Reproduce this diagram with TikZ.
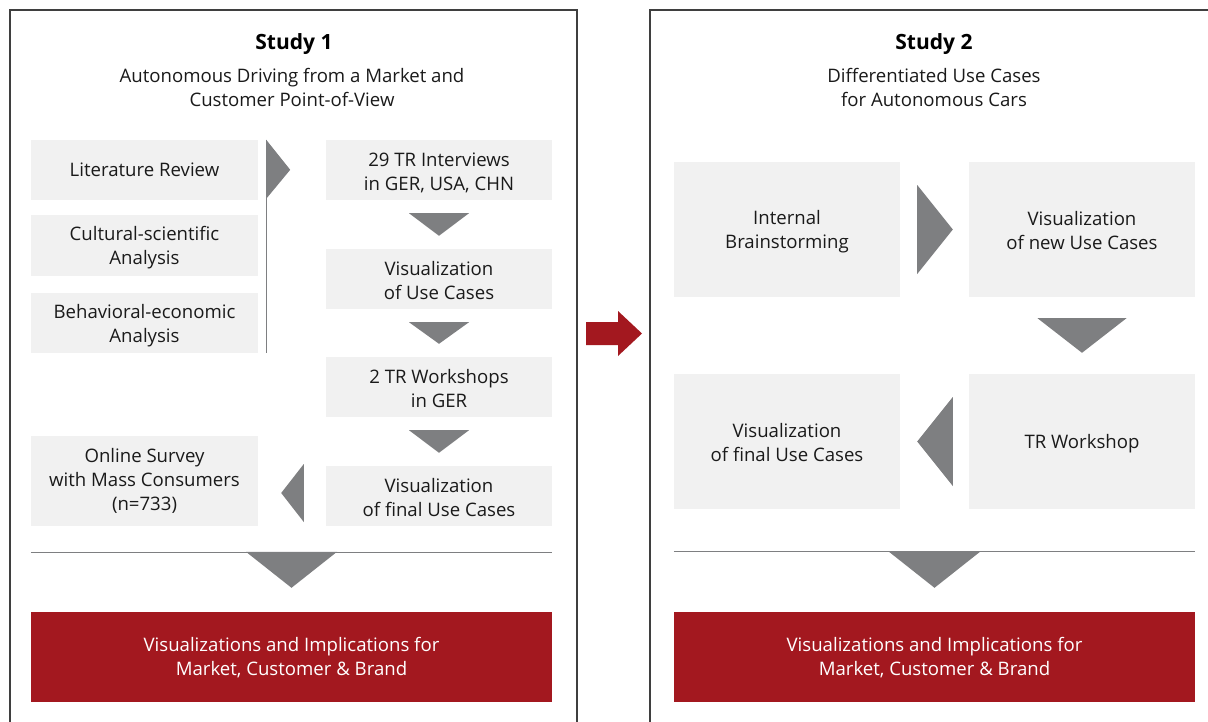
\documentclass[tikz,border=0pt]{standalone}
\usepackage{fontspec}
\setmainfont{Open Sans}
\usetikzlibrary{calc}
\definecolor{boxgray}{HTML}{F1F1F1}
\definecolor{trigray}{HTML}{7E7F81}
\definecolor{darkred}{HTML}{A3181F}
\definecolor{framegray}{HTML}{3F3F3F}
\definecolor{txt}{HTML}{1A1A1A}
\begin{document}
\begin{tikzpicture}[x=1pt,y=-1pt,
  tops/.style={execute at begin node={\rule{0pt}{#1}}},
  gbox/.style={fill=boxgray, inner sep=0pt, align=center, text=txt,
    font=\fontsize{18.6}{24}\selectfont,
    execute at end node={\rule[-4pt]{0pt}{4pt}}},
  redbox/.style={fill=darkred, inner sep=0pt, align=center, text=white,
    minimum width=521pt, minimum height=90pt, font=\fontsize{18.6}{24}\selectfont,
    tops=40pt, execute at end node={\rule[-4pt]{0pt}{4pt}}},
  tri/.style={fill=trigray, draw=none},
  frame/.style={draw=framegray, line width=1.3pt},
  sepline/.style={draw=trigray, line width=1pt},
  ttl/.style={font=\bfseries\fontsize{21}{24}\selectfont, text=black},
  sub/.style={align=center, text=txt, font=\fontsize{18.6}{24}\selectfont}]
\useasboundingbox (0,0) rectangle (1208,721);
\clip (0,0) rectangle (1208,721);
\fill[white] (0,0) rectangle (1208,721);

% frames
\draw[frame] (10,730) -- (10,10) -- (577,10) -- (577,730);
\draw[frame] (650,730) -- (650,10) -- (1215,10);

% ---------- Study 1 ----------
\node[ttl] (t1) at (294,44) {Study 1};
\node[sub] (s1) at (292,87.5) {Autonomous Driving from a Market and\\Customer Point-of-View};

\node[gbox, tops=16pt, minimum width=227pt, minimum height=60pt] (lit) at (144.5,170) {Literature Review};
\node[gbox, tops=42pt, minimum width=227pt, minimum height=61pt] (cult) at (144.5,245.5) {Cultural-scientific\\Analysis};
\node[gbox, tops=43pt, minimum width=227pt, minimum height=60pt] (behav) at (144.5,323) {Behavioral-economic\\Analysis};
\node[gbox, tops=62pt, minimum width=227pt, minimum height=90pt] (survey) at (144.5,481) {Online Survey\\with Mass Consumers\\(n=733)};

\node[gbox, tops=44pt, minimum width=226pt, minimum height=60pt] (interv) at (439,170) {29 TR Interviews\\in GER, USA, CHN};
\node[gbox, tops=44pt, minimum width=226pt, minimum height=60pt] (vuc) at (439,279) {Visualization\\of Use Cases};
\node[gbox, tops=44pt, minimum width=226pt, minimum height=60pt] (ws) at (439,387) {2 TR Workshops\\in GER};
\node[gbox, tops=44pt, minimum width=226pt, minimum height=60pt] (vfin1) at (439,496) {Visualization\\of final Use Cases};

\node[redbox] (res1) at (291.5,657) {Visualizations and Implications for\\Market, Customer \& Brand};

% bracket line and right triangle
\coordinate (bt) at ($(lit.north east)+(8,0)$);
\coordinate (bb) at ($(behav.south east)+(8,0)$);
\draw[draw=trigray, line width=1.2pt] (bt) -- (bb);
\fill[tri] (bt) -- ($(bt)+(24,30)$) -- ($(bt)+(0,59)$) -- cycle;

% down triangles
\fill[tri] ($(interv.south)+(-30,13)$) -- ($(interv.south)+(30,13)$) -- ($(vuc.north)+(0,-13)$) -- cycle;
\fill[tri] ($(vuc.south)+(-30,13)$) -- ($(vuc.south)+(30,13)$) -- ($(ws.north)+(0,-13)$) -- cycle;
\fill[tri] ($(ws.south)+(-30,13)$) -- ($(ws.south)+(30,13)$) -- ($(vfin1.north)+(0,-13)$) -- cycle;

% left triangle
\fill[tri] ($(vfin1.west)+(-22,-32)$) -- ($(vfin1.west)+(-22,26)$) -- ($(survey.east)+(23,12)$) -- cycle;

% separator + big triangle
\draw[sepline] ($(survey.south west)+(0,26)$) -- ($(vfin1.south east)+(0,26)$);
\fill[tri] ($(res1.north)+(-45.5,-60)$) -- ($(res1.north)+(45.5,-60)$) -- ($(res1.north)+(0,-24)$) -- cycle;

% ---------- red arrow between studies ----------
\fill[darkred] (586,322) -- (618,322) -- (618,311) -- (642,333.5) -- (618,356) -- (618,345) -- (586,345) -- cycle;

% ---------- Study 2 ----------
\node[ttl] (t2) at (934,44) {Study 2};
\node[sub] (s2) at (934,87.5) {Differentiated Use Cases\\for Autonomous Cars};

\node[gbox, tops=43pt, minimum width=226pt, minimum height=135pt] (brain) at (787,229.5) {Internal\\Brainstorming};
\node[gbox, tops=43pt, minimum width=226pt, minimum height=135pt] (vnew) at (1082,229.5) {Visualization\\of new Use Cases};
\node[gbox, tops=19pt, minimum width=226pt, minimum height=135pt] (trw) at (1082,441.5) {TR Workshop};
\node[gbox, tops=43pt, minimum width=226pt, minimum height=135pt] (vfin2) at (787,441.5) {Visualization\\of final Use Cases};

\node[redbox] (res2) at (934.5,657) {Visualizations and Implications for\\Market, Customer \& Brand};

% right triangle brain -> vnew
\fill[tri] ($(brain.east)+(17,-44.5)$) -- ($(brain.east)+(17,44.5)$) -- ($(vnew.west)+(-16,0)$) -- cycle;
% down triangle vnew -> trw
\fill[tri] ($(vnew.south)+(-44.5,21)$) -- ($(vnew.south)+(44.5,21)$) -- ($(trw.north)+(0,-21)$) -- cycle;
% left triangle trw -> vfin2
\fill[tri] ($(trw.west)+(-16,-44.5)$) -- ($(trw.west)+(-16,44.5)$) -- ($(vfin2.east)+(17,0)$) -- cycle;

% separator + big triangle
\draw[sepline] ($(vfin2.south west)+(0,42.5)$) -- ($(trw.south east)+(0,42.5)$);
\fill[tri] ($(res2.north)+(-45.5,-60)$) -- ($(res2.north)+(45.5,-60)$) -- ($(res2.north)+(0,-24)$) -- cycle;
\end{tikzpicture}
\end{document}
